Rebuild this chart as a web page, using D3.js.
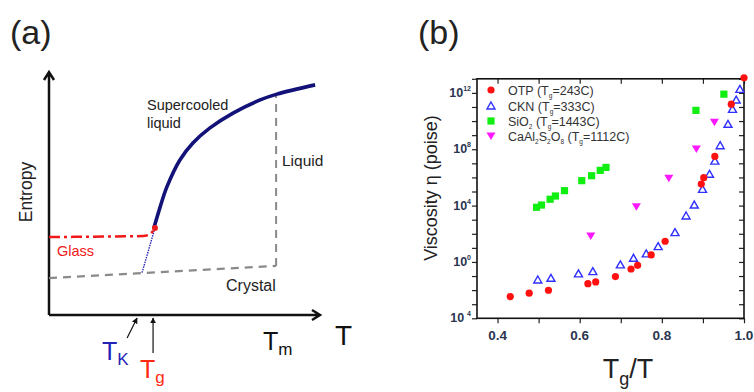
<!DOCTYPE html>
<html>
<head>
<meta charset="utf-8">
<script src="https://cdn.jsdelivr.net/npm/d3@7"></script>
<style>
  body { margin: 0; background: #fff; }
  svg { font-family: "Liberation Sans", Arial, sans-serif; }
</style>
</head>
<body>
<div id="chart"></div>
<script>
const W = 754, H = 392;

// ---- panel (a): schematic entropy curves (T, S in arbitrary units 0..10)
const glassCurve = [[0, 3.21], [3.47, 3.25], [3.73, 3.33], [3.91, 3.58]];
const liquidCurve = [[3.87, 3.58], [4.10, 4.44], [4.35, 5.27], [4.83, 6.38], [5.31, 7.08],
                     [5.94, 7.70], [6.79, 8.31], [7.79, 8.85], [8.41, 9.09], [9.82, 9.47]];
const kauzmannLine = [[3.91, 3.58], [3.43, 1.73]];
const crystalLine = [[0, 1.52], [8.38, 2.02]];
const meltLine = [[8.38, 2.02], [8.38, 9.12]];
const T_K = 3.25, T_g = 3.84, T_m = 8.38;

// ---- panel (b): viscosity vs Tg/T
const otpX = [0.431, 0.477, 0.524, 0.620, 0.639, 0.687, 0.725, 0.741, 0.774, 0.808, 0.896, 0.902, 0.929, 0.969, 1.0];
const otpLogEta = [-2.46, -2.22, -2.01, -1.54, -1.42, -1.04, -0.50, -0.24, 0.50, 1.47, 5.53, 5.98, 7.49, 11.2, 13.07];
const cknX = [0.498, 0.530, 0.597, 0.632, 0.699, 0.731, 0.762, 0.791, 0.832, 0.859, 0.879, 0.899, 0.916, 0.929, 0.942, 0.961, 0.972, 0.981, 0.990];
const cknLogEta = [-1.28, -1.16, -0.85, -0.69, -0.21, 0.26, 0.57, 1.09, 2.08, 3.26, 4.04, 5.15, 6.22, 7.16, 8.25, 9.77, 10.83, 11.49, 12.25];
const sio2X = [0.495, 0.507, 0.528, 0.541, 0.563, 0.605, 0.629, 0.650, 0.664, 0.883, 0.951];
const sio2LogEta = [3.88, 4.04, 4.45, 4.68, 5.06, 5.77, 6.12, 6.50, 6.71, 10.76, 11.91];
const caX = [0.627, 0.738, 0.817, 0.884, 0.928];
const caLogEta = [1.84, 3.92, 5.94, 8.01, 9.91];
const xTicks = [0.4, 0.6, 0.8, 1.0];
const yTickExps = [-4, 0, 4, 8, 12];
const legendNames = [
  ["OTP (T", "g", "=243C)"],
  ["CKN (T", "g", "=333C)"],
  ["SiO", "2", " (T", "g", "=1443C)"],
  ["CaAl", "2", "S", "2", "O", "8", " (T", "g", "=1112C)"]
];

const svg = d3.select("#chart").append("svg")
  .attr("width", W).attr("height", H);

// ================= panel (a) =================
const xa = d3.scaleLinear().domain([0, 10]).range([49, 320]);
const ya = d3.scaleLinear().domain([0, 10]).range([315, 72]);
const line = d3.line().x(d => xa(d[0])).y(d => ya(d[1]));

svg.append("text").attr("x", 10).attr("y", 44)
  .attr("font-size", 34).attr("fill", "#222").text("(a)");

// axes with open arrow heads
const ga = svg.append("g").attr("stroke", "#111").attr("stroke-width", 2.5).attr("fill", "none");
ga.append("path").attr("d", `M${xa(0)},${ya(0)} L${xa(0)},${ya(10)} M${xa(0) - 5},${ya(10) + 8} L${xa(0)},${ya(10)} L${xa(0) + 5},${ya(10) + 8}`);
ga.append("path").attr("d", `M${xa(0)},${ya(0)} L${xa(10)},${ya(0)} M${xa(10) - 8},${ya(0) - 5} L${xa(10)},${ya(0)} L${xa(10) - 8},${ya(0) + 5}`);

// crystal + melting
svg.append("path").datum(crystalLine).attr("d", line)
  .attr("fill", "none").attr("stroke", "#8a8a8a").attr("stroke-width", 2.2).attr("stroke-dasharray", "8,6");
svg.append("path").datum(meltLine).attr("d", line)
  .attr("fill", "none").attr("stroke", "#8a8a8a").attr("stroke-width", 2).attr("stroke-dasharray", "8,6");

// extrapolated liquid to T_K
svg.append("path").datum(kauzmannLine).attr("d", line)
  .attr("fill", "none").attr("stroke", "#2a2ab8").attr("stroke-width", 1.4).attr("stroke-dasharray", "1.5,1");

// glass
svg.append("path").datum(glassCurve).attr("d", line.curve(d3.curveMonotoneX))
  .attr("fill", "none").attr("stroke", "#f01818").attr("stroke-width", 2.5).attr("stroke-dasharray", "11,4,3,4");
line.curve(d3.curveLinear);

// supercooled liquid
svg.append("path").datum(liquidCurve)
  .attr("d", d3.line().x(d => xa(d[0])).y(d => ya(d[1])).curve(d3.curveCatmullRom))
  .attr("fill", "none").attr("stroke", "#121278").attr("stroke-width", 3.6);

svg.append("circle").attr("cx", xa(glassCurve[3][0])).attr("cy", ya(glassCurve[3][1]))
  .attr("r", 3).attr("fill", "#f01818");

// labels
svg.append("text").attr("transform", "translate(32,192) rotate(-90)")
  .attr("text-anchor", "middle").attr("font-size", 17.5).attr("fill", "#222").text("Entropy");
svg.append("text").attr("x", 147).attr("y", 110).attr("font-size", 14.5).attr("fill", "#222").text("Supercooled");
svg.append("text").attr("x", 147).attr("y", 128).attr("font-size", 14.5).attr("fill", "#222").text("liquid");
svg.append("text").attr("x", 282).attr("y", 166).attr("font-size", 15.5).attr("fill", "#222").text("Liquid");
svg.append("text").attr("x", 57).attr("y", 256).attr("font-size", 14.5).attr("fill", "#f01818").text("Glass");
svg.append("text").attr("x", 226).attr("y", 291).attr("font-size", 16).attr("fill", "#222").text("Crystal");
svg.append("text").attr("x", 335).attr("y", 345).attr("font-size", 28).attr("fill", "#111").text("T");

// T_K / T_g markers
svg.append("defs").append("marker").attr("id", "ah")
  .attr("viewBox", "0 0 10 10").attr("refX", 9).attr("refY", 5)
  .attr("markerWidth", 5).attr("markerHeight", 5).attr("orient", "auto")
  .append("path").attr("d", "M0,0 L10,5 L0,10 z").attr("fill", "#111");
svg.append("line").attr("x1", xa(T_K) - 10).attr("y1", ya(0) + 23).attr("x2", xa(T_K)).attr("y2", ya(0) + 3)
  .attr("stroke", "#111").attr("stroke-width", 1.2).attr("marker-end", "url(#ah)");
svg.append("line").attr("x1", xa(T_g)).attr("y1", ya(0) + 38).attr("x2", xa(T_g)).attr("y2", ya(0) + 3)
  .attr("stroke", "#111").attr("stroke-width", 1.2).attr("marker-end", "url(#ah)");

const tk = svg.append("text").attr("x", 102).attr("y", 360).attr("font-size", 25).attr("fill", "#2424b4");
tk.append("tspan").text("T");
tk.append("tspan").attr("font-size", 17).attr("dy", 5).text("K");
const tg = svg.append("text").attr("x", 140).attr("y", 378).attr("font-size", 25).attr("fill", "#ff2a10");
tg.append("tspan").text("T");
tg.append("tspan").attr("font-size", 17).attr("dy", 5).text("g");
const tm = svg.append("text").attr("x", 263).attr("y", 350).attr("font-size", 25).attr("fill", "#111");
tm.append("tspan").text("T");
tm.append("tspan").attr("font-size", 17).attr("dy", 5).text("m");

// ================= panel (b) =================
const xb = d3.scaleLinear().domain([0.35, 1.0]).range([477, 744]);
const yb = d3.scaleLog().domain([1e-4, 1e13]).range([318.3, 78.8]);

svg.append("text").attr("x", 418).attr("y", 44)
  .attr("font-size", 34).attr("fill", "#222").text("(b)");

const minorX = d3.range(0.4, 1.001, 0.1);
const minorY = d3.range(-4, 14).map(e => Math.pow(10, e));

svg.append("g").attr("transform", `translate(0,${yb.range()[0]})`)
  .call(d3.axisBottom(xb).tickValues(minorX).tickSize(5).tickFormat(""))
  .call(g => g.select(".domain").remove());
svg.append("g").attr("transform", `translate(0,${yb.range()[1]})`)
  .call(d3.axisBottom(xb).tickValues(minorX).tickSize(5).tickFormat(""))
  .call(g => g.select(".domain").remove());
svg.append("g").attr("transform", `translate(${xb.range()[0]},0)`)
  .call(d3.axisLeft(yb).tickValues(minorY).tickSize(5).tickFormat(""))
  .call(g => g.select(".domain").remove());
svg.append("g").attr("transform", `translate(${xb.range()[1]},0)`)
  .call(d3.axisLeft(yb).tickValues(minorY).tickSize(5).tickFormat(""))
  .call(g => g.select(".domain").remove());
svg.selectAll(".tick line").attr("stroke", "#222").attr("stroke-width", 1.2);

svg.append("rect").attr("x", xb.range()[0]).attr("y", yb.range()[1])
  .attr("width", xb.range()[1] - xb.range()[0]).attr("height", yb.range()[0] - yb.range()[1])
  .attr("fill", "none").attr("stroke", "#111").attr("stroke-width", 1.6);

// tick labels
svg.selectAll(".xlab").data(xTicks).enter().append("text")
  .attr("x", d => xb(d)).attr("y", 340).attr("text-anchor", "middle")
  .attr("font-size", 13.5).attr("font-weight", "bold").attr("fill", "#2b3550")
  .text(d => d.toFixed(1));
const yl = svg.selectAll(".ylab").data(yTickExps).enter().append("text")
  .attr("x", 471).attr("y", d => yb(Math.pow(10, d)) + 4).attr("text-anchor", "end")
  .attr("font-size", 12.5).attr("font-weight", "bold").attr("fill", "#2b3550");
yl.append("tspan").text("10");
yl.append("tspan").attr("font-size", 7).attr("dy", -6).attr("dx", d => d < 0 ? 3 : 0).text(d => d < 0 ? Math.abs(d) : d);

// series
const toPts = (xs, ys) => xs.map((x, i) => ({ x: x, y: Math.pow(10, ys[i]) }));
const otp = toPts(otpX, otpLogEta), ckn = toPts(cknX, cknLogEta);
const sio2 = toPts(sio2X, sio2LogEta), ca = toPts(caX, caLogEta);

const drawCircle = (g, x, y) => g.append("circle").attr("cx", x).attr("cy", y).attr("r", 3.6).attr("fill", "#ff1111");
const drawTri = (g, x, y) => g.append("path").attr("d", `M${x},${y - 4} L${x + 4},${y + 3} L${x - 4},${y + 3} Z`)
  .attr("fill", "none").attr("stroke", "#3030ff").attr("stroke-width", 1.4);
const drawSq = (g, x, y) => g.append("rect").attr("x", x - 3.6).attr("y", y - 3.6).attr("width", 7.2).attr("height", 7.2).attr("fill", "#11ee11");
const drawDown = (g, x, y) => g.append("path").attr("d", `M${x - 4.5},${y - 3.5} L${x + 4.5},${y - 3.5} L${x},${y + 4} Z`).attr("fill", "#ff18ff");

const pg = svg.append("g");
sio2.forEach(d => drawSq(pg, xb(d.x), yb(d.y)));
ca.forEach(d => drawDown(pg, xb(d.x), yb(d.y)));
ckn.forEach(d => drawTri(pg, xb(d.x), yb(d.y)));
otp.forEach(d => drawCircle(pg, xb(d.x), yb(d.y)));

// legend
const drawers = [drawCircle, drawTri, drawSq, drawDown];
const legY = [90, 106, 121, 136];
legendNames.forEach((parts, i) => {
  drawers[i](svg, 491, legY[i]);
  const t = svg.append("text").attr("x", 508).attr("y", legY[i] + 4.5)
    .attr("font-size", 12.5).attr("fill", "#333");
  parts.forEach((p, j) => {
    if (j % 2 === 1) t.append("tspan").attr("font-size", 6.5).attr("dy", 3).text(p);
    else t.append("tspan").attr("dy", j === 0 ? 0 : -3).text(p);
  });
});

// axis titles
svg.append("text").attr("transform", "translate(437,188) rotate(-90)")
  .attr("text-anchor", "middle").attr("font-size", 18).attr("fill", "#222")
  .text("Viscosity  η (poise)");
const xt = svg.append("text").attr("x", 628).attr("y", 378).attr("text-anchor", "middle")
  .attr("font-size", 27).attr("fill", "#222");
xt.append("tspan").text("T");
xt.append("tspan").attr("font-size", 18).attr("dy", 7).text("g");
xt.append("tspan").attr("dy", -7).text("/T");
</script>
</body>
</html>
